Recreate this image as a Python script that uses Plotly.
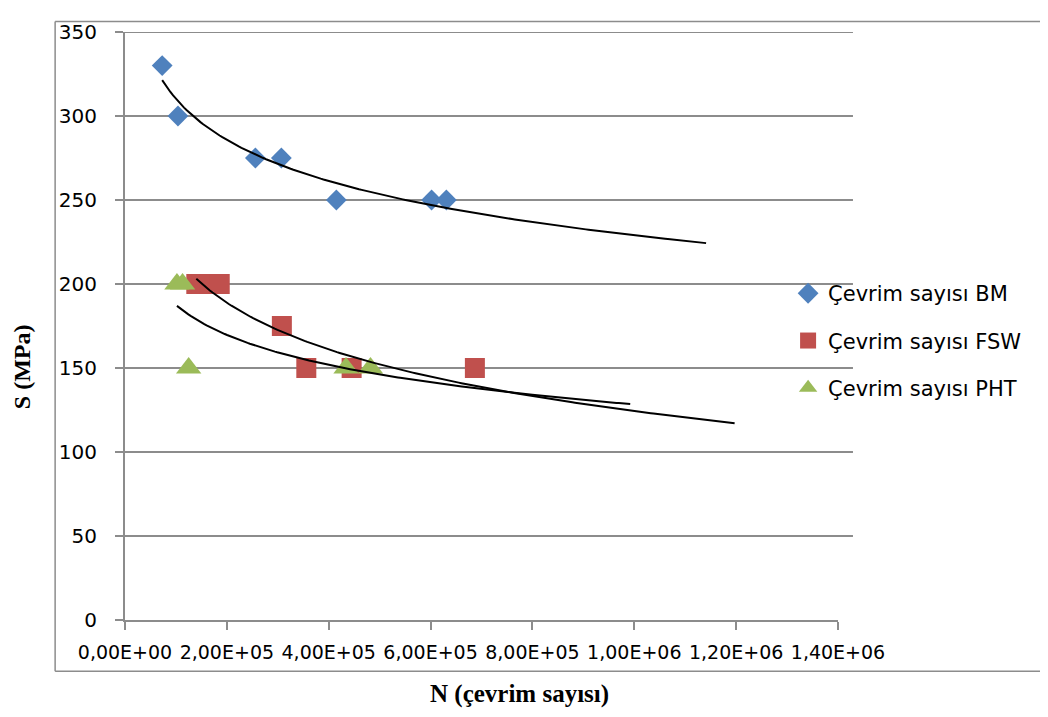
import numpy as np
import plotly.graph_objects as go

# data (N = cycles, S = stress in MPa)
bm_n = [73000, 104000, 256000, 307000, 415000, 602000, 631000]
bm_s = [330, 300, 275, 275, 250, 250, 250]

fsw_n = [140000, 150000, 166000, 186000, 308000, 356000, 445000, 687000]
fsw_s = [200, 200, 200, 200, 175, 150, 150, 150]

pht_n = [102000, 113000, 125000, 434000, 482000]
pht_s = [200, 200, 150, 150, 150]

names = ["Çevrim sayısı BM", "Çevrim sayısı FSW", "Çevrim sayısı PHT"]
colors = ["#4F81BD", "#C0504D", "#9BBB59"]
symbols = ["diamond", "square", "triangle-up"]
sizes = [16, 20, 22]

y_ticks = [0, 50, 100, 150, 200, 250, 300, 350]
x_ticks = [0, 200000, 400000, 600000, 800000, 1000000, 1200000, 1400000]
x_labels = [f"{v:.2E}".replace(".", ",") for v in x_ticks]

forecast = 510000  # excel trendline forward forecast

fig = go.Figure()

series = [(bm_n, bm_s), (fsw_n, fsw_s), (pht_n, pht_s)]
for i, (n, s) in enumerate(series):
    fig.add_trace(go.Scatter(
        x=n, y=s, mode="markers", name=names[i], legendgroup=names[i],
        marker=dict(symbol=symbols[i], size=sizes[i], color=colors[i], line=dict(width=0)),
    ))

# logarithmic trendlines, fitted like excel does
for i, (n, s) in enumerate(series):
    a, b = np.polyfit(np.log(n), s, 1)
    xs = np.linspace(min(n), max(n) + forecast, 200)
    fig.add_trace(go.Scatter(
        x=xs, y=a * np.log(xs) + b, mode="lines", showlegend=False,
        legendgroup=names[i], hoverinfo="skip",
        line=dict(color="black", width=2),
    ))

grid_col = "#8C8C8C"

# horizontal gridlines run a bit past the last x tick, as in the original
for v in y_ticks[1:]:
    fig.add_shape(type="line", xref="paper", yref="y", x0=0, x1=1.021, y0=v, y1=v,
                  line=dict(color=grid_col, width=2), layer="below")

# outer chart border
fig.add_shape(type="line", xref="paper", yref="paper", x0=-0.098, x1=-0.098, y0=-0.087, y1=1.018,
              line=dict(color=grid_col, width=1.5))
fig.add_shape(type="line", xref="paper", yref="paper", x0=-0.098, x1=1.32, y0=1.018, y1=1.018,
              line=dict(color=grid_col, width=1.5))
fig.add_shape(type="line", xref="paper", yref="paper", x0=-0.098, x1=1.32, y0=-0.087, y1=-0.087,
              line=dict(color=grid_col, width=1.5))

fig.add_annotation(text="<b>N (çevrim sayısı)</b>", xref="paper", yref="paper",
                   x=(520 - 125) / 713, y=(620 - 695) / 600, xanchor="center", yanchor="middle",
                   showarrow=False,
                   font=dict(family="Liberation Serif", size=25, color="black"))
fig.add_annotation(text="<b>S (MPa)</b>", xref="paper", yref="paper",
                   x=(22 - 125) / 713, y=(620 - 362) / 600, xanchor="center", yanchor="middle",
                   showarrow=False, textangle=-90,
                   font=dict(family="Liberation Serif", size=24, color="black"))

fig.update_xaxes(range=[0, 1400000], tickvals=x_ticks, ticktext=x_labels,
                 showgrid=False, zeroline=False, showline=True, linecolor=grid_col, linewidth=2,
                 ticks="outside", ticklen=8, tickwidth=2, tickcolor=grid_col,
                 ticklabelstandoff=6,
                 tickfont=dict(family="DejaVu Sans", size=19, color="black"))
fig.update_yaxes(range=[0, 350], tickvals=y_ticks,
                 showgrid=False, zeroline=False, showline=True, linecolor=grid_col, linewidth=2,
                 ticks="outside", ticklen=8, tickwidth=2, tickcolor=grid_col,
                 ticklabelstandoff=14,
                 tickfont=dict(family="DejaVu Sans", size=20, color="black"))

# page has an 8px body margin, so the figure is a bit smaller than the window
fig.update_layout(
    width=1040, height=701,
    margin=dict(l=117, r=210, t=12, b=89),
    paper_bgcolor="white", plot_bgcolor="white",
    legend=dict(x=0.930, y=0.59, xanchor="left", yanchor="top",
                traceorder="grouped", tracegroupgap=17,
                font=dict(family="DejaVu Sans", size=21, color="black"),
                bgcolor="rgba(0,0,0,0)"),
)

fig.write_html("out.html")
